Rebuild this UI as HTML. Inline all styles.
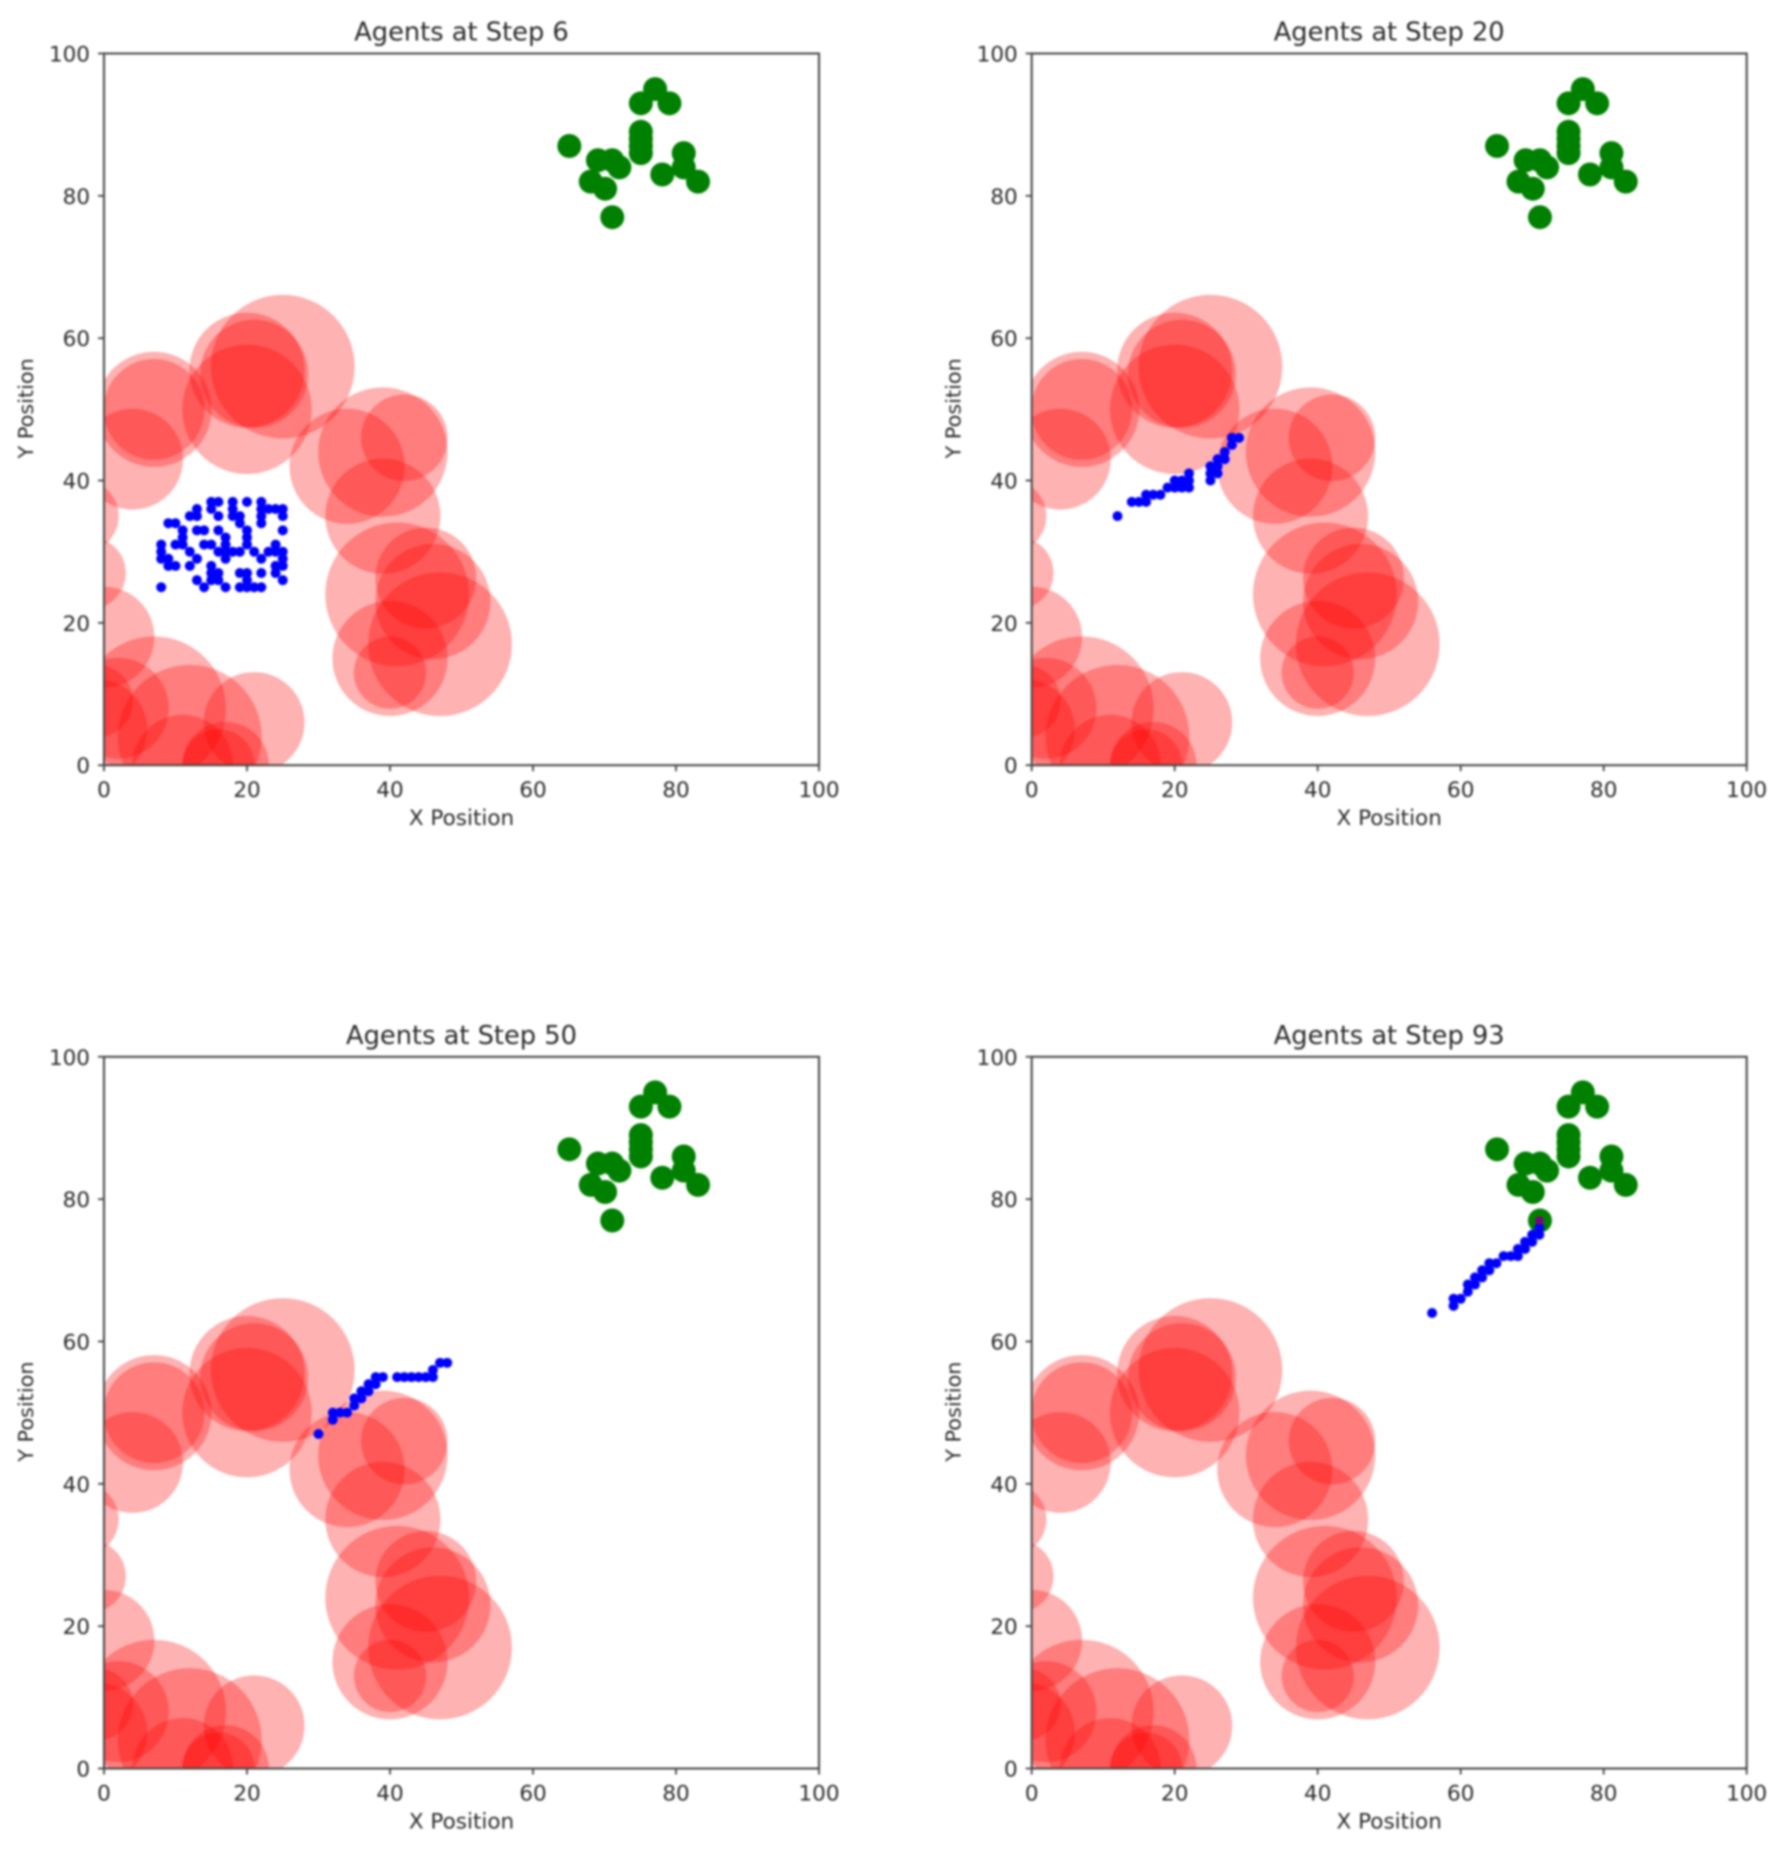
<!DOCTYPE html>
<html lang="en">
<head>
<meta charset="utf-8">
<title>Agents at Steps 6, 20, 50, 93</title>
<style>
html,body{margin:0;padding:0;background:#fff;width:1784px;height:1855px;overflow:hidden}
svg{display:block;filter:blur(1px)}
text{font-family:"DejaVu Sans","Liberation Sans",sans-serif;fill:#2a2a2a}
</style>
</head>
<body>
<svg id="figure" xmlns="http://www.w3.org/2000/svg" width="1784" height="1855" viewBox="0 0 1784 1855"></svg>
<script>
const steps = [6, 20, 50, 93];
const xTicks = [0, 20, 40, 60, 80, 100];
const yTicks = [0, 20, 40, 60, 80, 100];
const obstacles = [
  [25,56,10],[20,50,9],[20,55.5,8],[21,55,7.5],[7,50,8],[7,50,7],[4,43,7],
  [34,42,8],[39,44,9],[42,46,6],[39,35,8],[41,24,10],[45,26.3,7],[46,23,8],
  [47,17,10],[40,15,8],[40,13,5],[-3,35,5],[-2,27,5],[0,18,7],
  [7,8,10],[12,4,10],[21,6,7],[11,0,7],[17,0,6],[16,0,5],[2,8,7],[-1,5,7],[-1,9,5]
];
const goals = [
  [77,95],[75,93],[79,93],[75,89],[75,88],[75,87],[75,86],[65,87],[69,85],[71,85],
  [72,84],[68,82],[70,81],[71,77],[78,83],[81,86],[81,84],[83,82]
];
const agentsStep6 = [
  [8,25],[14,25],[17,25],[19,25],[20,25],[21,25],[22,25],
  [13,26],[15,26],[16,26],[20,26],[25,26],
  [15,27],[16,27],[19,27],[20,27],[22,27],[24,27],
  [9,28],[10,28],[12,28],[15,28],[24,28],[25,28],
  [8,29],[9,29],[13,29],[17,29],[22,29],[25,29],
  [8,30],[12,30],[16,30],[17,30],[18,30],[19,30],[21,30],[23,30],[24,30],[25,30],
  [8,31],[10,31],[11,31],[14,31],[15,31],[17,31],[20,31],[24,31],
  [11,32],[17,32],[20,32],
  [11,33],[13,33],[14,33],[16,33],[20,33],[25,33],
  [9,34],[10,34],[19,34],[22,34],
  [12,35],[13,35],[16,35],[18,35],[19,35],[22,35],[25,35],
  [13,36],[15,36],[18,36],[22,36],[23,36],[24,36],[25,36],
  [15,37],[16,37],[18,37],[20,37],[22,37]
];
const agentsStep20 = [
  [12,35],[14,37],[15,37],[16,37],[16,38],[17,38],[18,38],[19,39],[20,39],[20,40],
  [21,39],[21,40],[22,39],[22,40],[22,41],[25,41],[25,42],[25,40],[26,41],[26,42],
  [26,43],[27,43],[27,44],[28,45],[28,46],[29,46]
];
const agentsStep50 = [
  [30,47],[32,49],[32,50],[33,50],[34,50],[35,51],[35,52],[36,52],[36,53],[37,53],
  [37,54],[38,54],[38,55],[39,55],[41,55],[42,55],[43,55],[44,55],[45,55],[46,55],[46,56],
  [47,57],[48,57]
];
const agentsStep93 = [
  [56,64],[59,65],[59,66],[60,66],[61,67],[61,68],[62,68],[62,69],[63,69],[63,70],
  [64,70],[65,71],[64,71],[66,72],[67,72],[68,72],[68,73],[69,73],[69,74],[70,74],[70,75],
  [71,75],[71,76]
];
const arrivedStep93 = [[71,77]];
const panelAgents = [agentsStep6, agentsStep20, agentsStep50, agentsStep93];
const panelArrived = [[], [], [], arrivedStep93];

const NS = 'http://www.w3.org/2000/svg';
const svg = document.getElementById('figure');
const plotWidth = 715, plotHeight = 711.7;
const plotLefts = [104, 1031.7], plotTops = [53.5, 1056.8];

function make(parent, tag, props) {
  const n = document.createElementNS(NS, tag);
  for (const k in props) n.setAttribute(k, props[k]);
  parent.appendChild(n);
  return n;
}

steps.forEach(function (step, i) {
  const left = plotLefts[i % 2], top = plotTops[Math.floor(i / 2)];
  const xScale = function (v) { return left + v / 100 * plotWidth; };
  const yScale = function (v) { return top + plotHeight - v / 100 * plotHeight; };
  const unit = plotWidth / 100;

  const panel = make(svg, 'g', {});
  
  

  const clip = make(panel, 'clipPath', { id: 'clip' + i });
  make(clip, 'rect', { x: left, y: top, width: plotWidth, height: plotHeight });

  const marks = make(panel, 'g', { 'clip-path': 'url(#clip' + i + ')' });
  
  

  goals.forEach(function (p) {
    const c = make(marks, 'circle', { cx: xScale(p[0]) + 0.6, cy: yScale(p[1]), r: 12, fill: '#008000' });
    
    
  });
  obstacles.forEach(function (p) {
    const c = make(marks, 'circle', { cx: xScale(p[0]), cy: yScale(p[1]), r: p[2] * unit, fill: '#ff0000', 'fill-opacity': 0.3, stroke: '#ff0000', 'stroke-opacity': 0.08, 'stroke-width': 2 });
    
    
  });
  panelAgents[i].forEach(function (p) {
    const c = make(marks, 'circle', { cx: xScale(p[0]), cy: yScale(p[1]), r: 5, fill: '#0000ff' });
    
    
  });
  panelArrived[i].forEach(function (p) {
    const c = make(marks, 'circle', { cx: xScale(p[0]), cy: yScale(p[1]), r: 4.2, fill: '#800080' });
    
    
  });

  const frame = make(panel, 'rect', { x: left, y: top, width: plotWidth, height: plotHeight, fill: 'none', stroke: '#444', 'stroke-width': 2 });
  
  

  xTicks.forEach(function (v) {
    const x = xScale(v), y = top + plotHeight;
    const t = make(panel, 'line', { x1: x, x2: x, y1: y, y2: y + 6, stroke: '#444', 'stroke-width': 1.8 });
    
    
    const l = make(panel, 'text', { x: x, y: y + 32, 'text-anchor': 'middle', 'font-size': 21.5 });
    l.textContent = v;
    
    
  });
  yTicks.forEach(function (v) {
    const y = yScale(v);
    const t = make(panel, 'line', { x1: left - 6, x2: left, y1: y, y2: y, stroke: '#444', 'stroke-width': 1.8 });
    
    
    const l = make(panel, 'text', { x: left - 14, y: y + 8, 'text-anchor': 'end', 'font-size': 21.5 });
    l.textContent = v;
    
    
  });

  const title = make(panel, 'text', { x: left + plotWidth / 2, y: top - 13, 'text-anchor': 'middle', 'font-size': 25.7 });
  title.textContent = 'Agents at Step ' + step;
  
  

  const xLabel = make(panel, 'text', { x: left + plotWidth / 2, y: top + plotHeight + 60, 'text-anchor': 'middle', 'font-size': 21.5 });
  xLabel.textContent = 'X Position';
  
  

  const yx = left - 71, yy = top + plotHeight / 2 - 1;
  const yLabel = make(panel, 'text', { x: yx, y: yy, 'text-anchor': 'middle', 'font-size': 20.8, transform: 'rotate(-90 ' + yx + ' ' + yy + ')' });
  yLabel.textContent = 'Y Position';
  
  
});
</script>
</body>
</html>
